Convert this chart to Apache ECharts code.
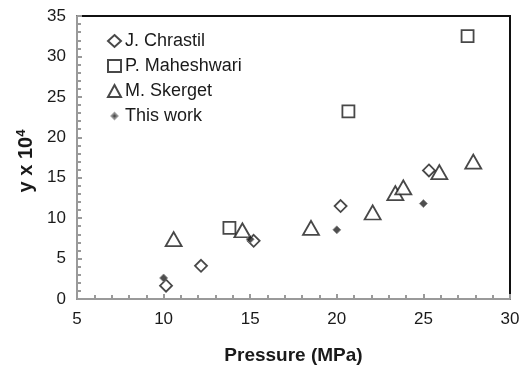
<!DOCTYPE html>
<html>
<head>
<meta charset="utf-8">
<script src="https://cdn.jsdelivr.net/npm/echarts@6/dist/echarts.min.js"></script>
<style>
  html, body { margin: 0; padding: 0; background: #fff; }
  #chart { width: 524px; height: 365px; }
</style>
</head>
<body>
<div id="chart"></div>
<script>
// Solubility (y x 10^4) against pressure (MPa) for each data source
const chrastil = [[10.14, 1.65], [12.16, 4.1], [15.2, 7.2], [20.22, 11.5], [25.32, 15.9]];
const maheshwari = [[13.8, 8.8], [20.67, 23.2], [27.55, 32.5]];
const skerget = [[10.58, 7.4], [14.55, 8.5], [18.51, 8.8], [22.07, 10.7], [23.38, 13.1], [23.84, 13.8], [25.92, 15.7], [27.88, 17.0]];
const thisWork = [[10, 2.6], [15, 7.4], [20, 8.55], [25, 11.8]];

const seriesNames = ['J. Chrastil', 'P. Maheshwari', 'M. Skerget', 'This work'];
const xTicks = { min: 5, max: 30, step: 5 };
const yTicks = { min: 0, max: 35, step: 5 };

const font = 'Liberation Sans, Arial, sans-serif';
const ink = '#1a1a1a';
const axisGray = '#9a9a9a';

const hollow = { color: '#fff', borderColor: ink, borderWidth: 1.8 };

const chart = echarts.init(document.getElementById('chart'), null, { renderer: 'canvas' });
chart.setOption({
  animation: false,
  backgroundColor: '#fff',
  grid: {
    left: 77, right: 14, top: 16, bottom: 66,
    outerBoundsMode: 'none', containLabel: false,
    show: true, borderColor: '#111', borderWidth: 2, backgroundColor: 'transparent'
  },
  legend: {
    orient: 'vertical', left: 107, top: 32, padding: 0,
    itemGap: 7, itemWidth: 13, itemHeight: 12,
    textStyle: { fontFamily: font, fontSize: 18, color: ink, padding: [0, 0, 0, -1] },
    data: [
      { name: seriesNames[0], icon: 'diamond' },
      { name: seriesNames[1], icon: 'rect' },
      { name: seriesNames[2], icon: 'triangle' },
      // small diamond inside a padded box so it renders smaller than the others
      { name: seriesNames[3], icon: 'path://M0,0M20,20M10,5L15,10L10,15L5,10Z' }
    ]
  },
  xAxis: {
    type: 'value', min: xTicks.min, max: xTicks.max, interval: xTicks.step,
    name: 'Pressure (MPa)', nameLocation: 'middle', nameGap: 47,
    nameTextStyle: { fontFamily: font, fontSize: 19, fontWeight: 'bold', color: ink },
    axisLine: { lineStyle: { color: axisGray, width: 2 } },
    axisTick: { inside: true, length: 5, lineStyle: { color: axisGray, width: 2 } },
    minorTick: { show: true, splitNumber: 5, length: 4, lineStyle: { color: axisGray, width: 2 } },
    axisLabel: { fontFamily: font, fontSize: 17, color: ink, margin: 12 },
    splitLine: { show: false }
  },
  yAxis: {
    type: 'value', min: yTicks.min, max: yTicks.max, interval: yTicks.step,
    name: 'y x 10{sup|4}', nameLocation: 'middle', nameGap: 38, nameRotate: 90,
    nameTextStyle: {
      fontFamily: font, fontSize: 20, fontWeight: 'bold', color: ink, padding: [0, 7, 0, 0],
      rich: { sup: { fontFamily: font, fontSize: 13, fontWeight: 'bold', color: ink, verticalAlign: 'top', padding: [0, 0, 10, 0] } }
    },
    axisLine: { lineStyle: { color: axisGray, width: 2 } },
    axisTick: { inside: true, length: 5, lineStyle: { color: axisGray, width: 2 } },
    minorTick: { show: true, splitNumber: 5, length: 4, lineStyle: { color: axisGray, width: 2 } },
    axisLabel: { fontFamily: font, fontSize: 17, color: ink, margin: 11 },
    splitLine: { show: false }
  },
  series: [
    { name: seriesNames[0], type: 'scatter', data: chrastil, symbol: 'diamond', symbolSize: [12, 12], itemStyle: hollow },
    { name: seriesNames[1], type: 'scatter', data: maheshwari, symbol: 'rect', symbolSize: [12, 12], itemStyle: hollow },
    { name: seriesNames[2], type: 'scatter', data: skerget, symbol: 'triangle', symbolSize: [16, 14], itemStyle: hollow },
    { name: seriesNames[3], type: 'scatter', data: thisWork, symbol: 'diamond', symbolSize: [8, 8], z: 3,
      itemStyle: { color: '#222', borderColor: '#888', borderWidth: 1 } }
  ]
});
</script>
</body>
</html>
